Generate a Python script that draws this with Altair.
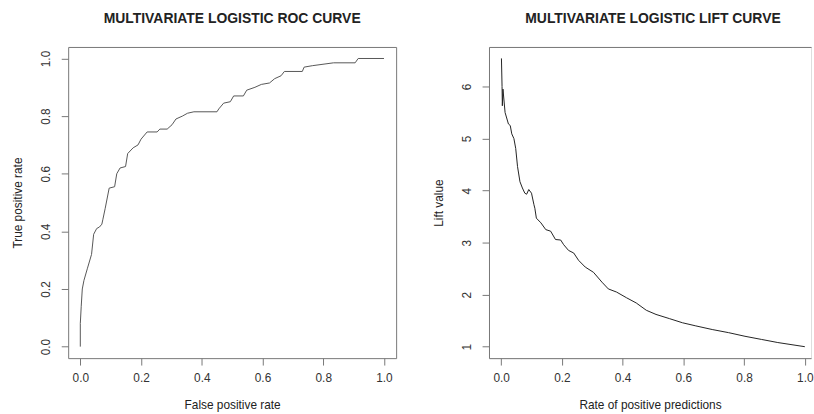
import altair as alt
import pandas as pd

# ROC curve points (false positive rate, true positive rate)
roc_fpr = [0.0, 0.0, 0.003, 0.0065, 0.012, 0.023, 0.037, 0.044, 0.054, 0.063, 0.071, 0.074,
           0.082, 0.095, 0.113, 0.12, 0.131, 0.149, 0.156, 0.174, 0.19, 0.2, 0.22, 0.253,
           0.262, 0.286, 0.302, 0.315, 0.336, 0.353, 0.374, 0.45, 0.456, 0.472, 0.494,
           0.505, 0.537, 0.548, 0.575, 0.596, 0.623, 0.64, 0.661, 0.672, 0.731, 0.737,
           0.764, 0.834, 0.905, 0.915, 1.0]
roc_tpr = [0.0, 0.08, 0.14, 0.2, 0.23, 0.27, 0.32, 0.39, 0.41, 0.415, 0.425, 0.44,
           0.48, 0.55, 0.555, 0.6, 0.62, 0.625, 0.67, 0.69, 0.70, 0.72, 0.745, 0.745,
           0.755, 0.755, 0.77, 0.79, 0.80, 0.81, 0.815, 0.815, 0.825, 0.845, 0.85,
           0.87, 0.87, 0.89, 0.90, 0.91, 0.915, 0.93, 0.94, 0.955, 0.955, 0.97,
           0.975, 0.985, 0.985, 1.0, 1.0]

# Lift curve points (rate of positive predictions, lift value)
lift_rpp = [0.001, 0.003, 0.004, 0.006, 0.013, 0.024, 0.03, 0.035, 0.042, 0.048, 0.054,
            0.062, 0.07, 0.078, 0.084, 0.091, 0.1, 0.108, 0.111, 0.116, 0.131, 0.147,
            0.163, 0.179, 0.196, 0.206, 0.222, 0.239, 0.255, 0.277, 0.304, 0.332, 0.353,
            0.38, 0.413, 0.445, 0.478, 0.51, 0.554, 0.597, 0.641, 0.695, 0.749, 0.803,
            0.857, 0.911, 1.0]
lift_val = [6.54, 6.0, 5.63, 5.95, 5.5, 5.28, 5.25, 5.09, 5.0, 4.81, 4.46,
            4.17, 4.05, 3.95, 3.93, 4.02, 3.95, 3.73, 3.66, 3.47, 3.38, 3.25,
            3.22, 3.06, 3.05, 2.96, 2.85, 2.8, 2.66, 2.53, 2.43, 2.24, 2.11,
            2.05, 1.94, 1.84, 1.70, 1.62, 1.54, 1.46, 1.40, 1.33, 1.27, 1.20,
            1.14, 1.08, 1.0]

x_ticks = [0.0, 0.2, 0.4, 0.6, 0.8, 1.0]
roc_y_ticks = [0.0, 0.2, 0.4, 0.6, 0.8, 1.0]
lift_y_ticks = [1, 2, 3, 4, 5, 6]

roc_df = pd.DataFrame({"fpr": roc_fpr, "tpr": roc_tpr, "order": range(len(roc_fpr))})
lift_df = pd.DataFrame({"rpp": lift_rpp, "lift": lift_val, "order": range(len(lift_rpp))})

FONT = "Liberation Sans"
FRAME = "#777"
H = 315
W_ROC = 332
W_LIFT = 326          # the lift panel runs off the right edge of the page
PX_PER_UNIT = W_ROC / 1.08
LIFT_X_MAX = -0.04 + W_LIFT / PX_PER_UNIT


def axis(title, values, fmt, vertical=False, frame=False):
    kw = dict(
        title=title, values=values, format=fmt, grid=False,
        domain=frame, domainColor=FRAME, domainWidth=1,
        tickColor=FRAME, tickSize=7, tickWidth=1,
        labelFont=FONT, labelFontSize=12, labelColor="#333",
        titleFont=FONT, titleFontSize=12, titleFontWeight="normal", titleColor="#222",
    )
    if vertical:
        kw.update(labelAngle=-90, labelAlign="center", labelBaseline="bottom",
                  labelPadding=9, titlePadding=15)
    else:
        kw.update(labelPadding=8, titlePadding=16)
    return alt.Axis(**kw)


def title(text, dx=0):
    return alt.TitleParams(text, font=FONT, fontSize=14.1, fontWeight="bold",
                           color="#222", offset=21, dx=dx)


roc = alt.Chart(roc_df).mark_line(color="#555", strokeWidth=1, clip=True).encode(
    x=alt.X("fpr:Q", scale=alt.Scale(domain=[-0.04, 1.04], nice=False, zero=False),
            axis=axis("False positive rate", x_ticks, ".1f")),
    y=alt.Y("tpr:Q", scale=alt.Scale(domain=[-0.04, 1.04], nice=False, zero=False),
            axis=axis("True positive rate", roc_y_ticks, ".1f", vertical=True)),
    order="order:Q",
).properties(
    width=W_ROC, height=H,
    title=title("MULTIVARIATE LOGISTIC ROC CURVE"),
    view=alt.ViewBackground(stroke=FRAME, strokeWidth=1),
)

lift_x_scale = alt.Scale(domain=[-0.04, LIFT_X_MAX], nice=False, zero=False)
lift_y_scale = alt.Scale(domain=[0.78, 6.76], nice=False, zero=False)
lift_y_axis = axis("Lift value", lift_y_ticks, "d", vertical=True, frame=True)

lift_line = alt.Chart(lift_df).mark_line(color="#222", strokeWidth=1, clip=True).encode(
    x=alt.X("rpp:Q", scale=lift_x_scale,
            axis=axis("Rate of positive predictions", x_ticks, ".1f", frame=True)),
    y=alt.Y("lift:Q", scale=lift_y_scale, axis=lift_y_axis),
    order="order:Q",
)

# top edge of the lift panel frame
lift_top = alt.Chart(lift_df).mark_line(opacity=0).encode(
    x=alt.X("rpp:Q", scale=lift_x_scale,
            axis=alt.Axis(orient="top", title=None, labels=False, ticks=False, grid=False,
                          domain=True, domainColor=FRAME, domainWidth=1)),
    y=alt.Y("lift:Q", scale=lift_y_scale, axis=lift_y_axis),
)

lift = alt.layer(lift_line, lift_top).resolve_axis(x="independent").properties(
    width=W_LIFT, height=H,
    title=title("MULTIVARIATE LOGISTIC LIFT CURVE", dx=3),
)

chart = alt.hconcat(roc, lift, spacing=35).properties(
    padding={"left": 11, "top": 9, "right": 0, "bottom": 0},
).configure_view(stroke="transparent").configure(background="white")

chart.save("out.html", embed_options={"renderer": "svg", "actions": False})
